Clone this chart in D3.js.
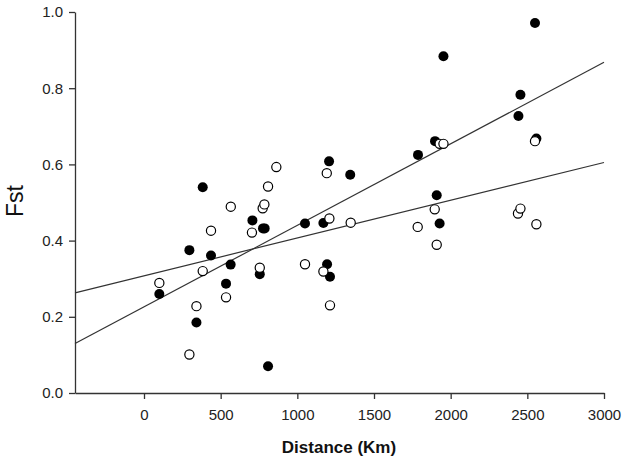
<!DOCTYPE html>
<html>
<head>
<meta charset="utf-8">
<script src="https://cdn.jsdelivr.net/npm/d3@7"></script>
<style>
  body { margin: 0; background: #fff; }
  text { font-family: Arial, "Liberation Sans", sans-serif; }
</style>
</head>
<body>
<script>
// filled circles (series 1)
var filledDist = [100, 296, 342, 383, 437, 535, 565, 707, 755, 776, 787, 809, 1050, 1170, 1194, 1207, 1213, 1345, 1787, 1898, 1909, 1928, 1953, 2442, 2455, 2550, 2559];
var filledFst  = [0.260, 0.375, 0.185, 0.540, 0.361, 0.287, 0.337, 0.453, 0.312, 0.432, 0.432, 0.070, 0.445, 0.446, 0.338, 0.608, 0.305, 0.573, 0.625, 0.661, 0.519, 0.445, 0.884, 0.727, 0.783, 0.971, 0.668];

// open circles (series 2)
var openDist = [100, 296, 342, 383, 437, 535, 566, 704, 755, 774, 785, 809, 863, 1050, 1170, 1192, 1209, 1213, 1348, 1785, 1896, 1909, 1928, 1953, 2439, 2455, 2550, 2559];
var openFst  = [0.289, 0.101, 0.228, 0.320, 0.426, 0.251, 0.489, 0.421, 0.329, 0.485, 0.495, 0.542, 0.593, 0.338, 0.319, 0.577, 0.458, 0.230, 0.447, 0.436, 0.482, 0.389, 0.654, 0.654, 0.471, 0.484, 0.661, 0.443];

// fitted lines: [filled, open]
var fitIntercept = [0.226, 0.3076];
var fitSlope = [0.000214, 0.0000991];

var xTicks = [0, 500, 1000, 1500, 2000, 2500, 3000];
var yTicks = [0, 0.2, 0.4, 0.6, 0.8, 1.0];

var W = 625, H = 462;
var svg = d3.select("body").append("svg")
        .attr("width", W)
        .attr("height", H);

var x = d3.scaleLinear().domain([-450, 3000]).range([75, 604]);
var y = d3.scaleLinear().domain([0, 1]).range([393, 12]);

// axes
var xAxis = svg.append("g")
        .attr("transform", "translate(0," + y(0) + ")")
        .call(d3.axisBottom(x).tickValues(xTicks).tickFormat(d3.format("d")).tickSize(6).tickSizeOuter(0).tickPadding(10));
var yAxis = svg.append("g")
        .attr("transform", "translate(" + x(-450) + ",0)")
        .call(d3.axisLeft(y).tickValues(yTicks).tickFormat(d3.format(".1f")).tickSize(6).tickSizeOuter(0).tickPadding(6));

[xAxis, yAxis].forEach(function(g){
  g.selectAll("path, line").attr("stroke", "#333").attr("stroke-width", 1.3);
  g.selectAll("text").attr("fill", "#222").style("font-size", "15px");
});

// regression lines
var xd = x.domain();
svg.selectAll("line.fit")
        .data(fitIntercept)
        .enter().append("line")
                .attr("class", "fit")
                .attr("x1", x(xd[0]))
                .attr("x2", x(xd[1]))
                .attr("y1", function(d,i){ return y(d + fitSlope[i]*xd[0]); })
                .attr("y2", function(d,i){ return y(d + fitSlope[i]*xd[1]); })
                .attr("stroke", "#333")
                .attr("stroke-width", 1.2);

// points
svg.selectAll("circle.filled")
        .data(filledDist)
        .enter().append("circle")
                .attr("class", "filled")
                .attr("cx", function(d){ return x(d); })
                .attr("cy", function(d,i){ return y(filledFst[i]); })
                .attr("r", 5)
                .attr("fill", "#000");

svg.selectAll("circle.open")
        .data(openDist)
        .enter().append("circle")
                .attr("class", "open")
                .attr("cx", function(d){ return x(d); })
                .attr("cy", function(d,i){ return y(openFst[i]); })
                .attr("r", 4.6)
                .attr("fill", "#fff")
                .attr("stroke", "#000")
                .attr("stroke-width", 1.2);

// axis titles
svg.append("text")
        .attr("transform", "translate(23,201) rotate(-90)")
        .attr("text-anchor", "middle")
        .style("font-size", "23px")
        .attr("fill", "#111")
        .text("Fst");

svg.append("text")
        .attr("x", 339)
        .attr("y", 453)
        .attr("text-anchor", "middle")
        .style("font-size", "17px")
        .style("font-weight", "bold")
        .attr("fill", "#111")
        .text("Distance (Km)");
</script>
</body>
</html>
